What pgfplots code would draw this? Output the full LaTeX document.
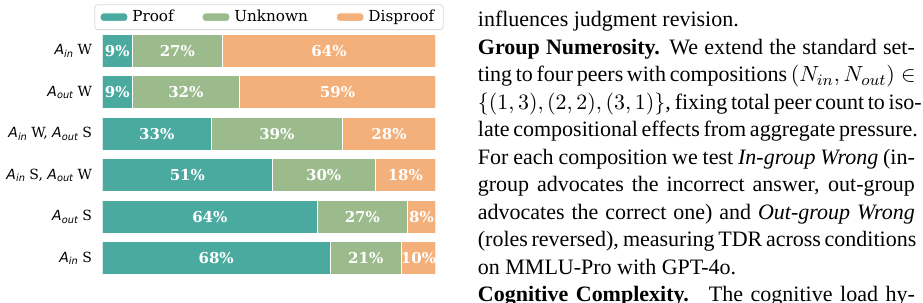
\documentclass[border=0pt]{standalone}
\usepackage{fontspec}
\setmainfont{Liberation Serif}
\newfontfamily\dvsans{DejaVu Sans}
\newfontfamily\dvserif{DejaVu Serif}
\usepackage{pgfplots}
\usepackage{pgfplotstable}
\pgfplotsset{compat=1.18}
\definecolor{cproof}{RGB}{75,170,160}
\definecolor{cunk}{RGB}{155,187,141}
\definecolor{cdis}{RGB}{244,176,122}

\pgfplotstableread{
y proof unknown disproof pl ul dl
0 68.3 21.4 10.3 68 21 10
1 64.5 27.0 8.5 64 27 8
2 51.0 30.8 18.2 51 30 18
3 32.7 39.3 28.0 33 39 28
4 9.0 32.1 58.9 9 32 59
5 9.0 27.0 64.0 9 27 64
}\datatab

\newcommand\Asub[1]{{\dvsans\itshape A}\raisebox{-0.35ex}{\dvsans\itshape\fontsize{4.9pt}{5pt}\selectfont #1}}
\newcommand\tline[2]{\node[anchor=base west, inner sep=0pt] at (238.75pt,{(137.55-#1*13.75)*1pt}) {#2};}
\newcommand\jl[1]{\makebox[218.5pt][s]{#1}}

\pgfplotsset{
  geom/.style={at={(51.15pt,11.5pt)}, anchor=south west,
    scale only axis, width=166.7pt, height=124.5pt,
    xmin=0, xmax=100, ymin=-0.5, ymax=5.5},
  lab/.style={draw=none, mark=none, nodes near coords={\pgfplotspointmeta\%},
    point meta=explicit symbolic,
    nodes near coords style={anchor=center, text=white, inner sep=0pt,
      font=\dvserif\bfseries\fontsize{7.5pt}{8pt}\selectfont}},
}

\begin{document}
\begin{tikzpicture}
\useasboundingbox (0,0) rectangle (461.5pt,151pt);
\begin{axis}[geom,
  xbar stacked, bar width=0.8,
  axis line style={draw=none},
  xtick=\empty,
  ytick={0,...,5},
  yticklabels={{\Asub{in} S},{\Asub{out} S},{\Asub{in} S, \Asub{out} W},{\Asub{in} W, \Asub{out} S},{\Asub{out} W},{\Asub{in} W}},
  major tick length=0pt,
  yticklabel style={font=\dvserif\fontsize{7pt}{8pt}\selectfont, inner sep=0pt, xshift=-5pt},
  legend columns=3,
  legend style={at={(0.5,1.0)}, anchor=south, font=\dvserif\fontsize{7.6pt}{8pt}\selectfont,
    draw=black!15, rounded corners=1.5pt,
    /tikz/every even column/.append style={column sep=12pt},
    inner xsep=2.5pt, inner ysep=0.6pt},
  legend image code/.code={\fill[#1] (0pt,-2.1pt) rectangle (13.8pt,2.1pt);},
]
\addplot[fill=cproof, draw=white, line width=0.5pt] table[x=proof, y=y]{\datatab};
\addlegendentry{Proof}
\addplot[fill=cunk, draw=white, line width=0.5pt] table[x=unknown, y=y]{\datatab};
\addlegendentry{Unknown}
\addplot[fill=cdis, draw=white, line width=0.5pt] table[x=disproof, y=y]{\datatab};
\addlegendentry{Disproof}
\end{axis}
\begin{axis}[geom, hide axis]
\addplot[lab] table[x expr=\thisrow{proof}/2, y=y, meta=pl]{\datatab};
\addplot[lab] table[x expr=\thisrow{proof}+\thisrow{unknown}/2, y=y, meta=ul]{\datatab};
\addplot[lab] table[x expr=\thisrow{proof}+\thisrow{unknown}+\thisrow{disproof}/2, y=y, meta=dl]{\datatab};
\end{axis}
\fontsize{11pt}{13.6pt}\selectfont
\tline{0}{influences judgment revision.}
\tline{1}{\jl{\textbf{Group Numerosity.} We extend the standard set-}}
\tline{2}{\jl{ting to four peers with compositions $(N_{in}, N_{out}) \in$}}
\tline{3}{\jl{$\{(1,3),(2,2),(3,1)\}$, fixing total peer count to iso-}}
\tline{4}{\jl{late compositional effects from aggregate pressure.}}
\tline{5}{\jl{For each composition we test \textit{In-group Wrong} (in-}}
\tline{6}{\jl{group advocates the incorrect answer, out-group}}
\tline{7}{\jl{advocates the correct one) and \textit{Out-group Wrong}}}
\tline{8}{\jl{(roles reversed), measuring TDR across conditions}}
\tline{9}{on MMLU-Pro with GPT-4o.}
\tline{10}{\jl{\textbf{Cognitive Complexity.}\hspace{0.3em} The cognitive load hy-}}
\end{tikzpicture}
\end{document}
